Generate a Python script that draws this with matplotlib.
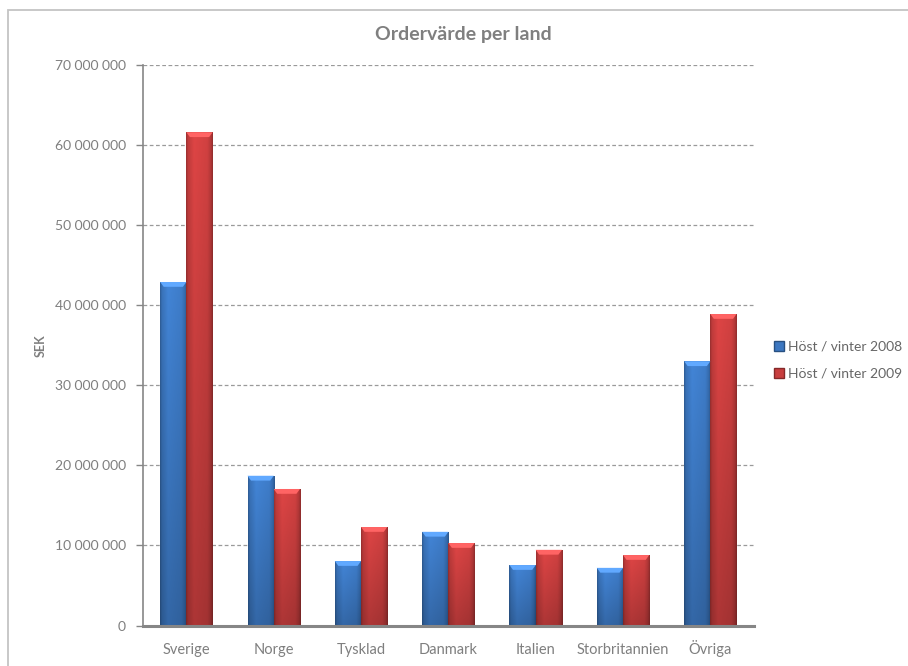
import matplotlib
matplotlib.use("Agg")
import matplotlib.pyplot as plt
import numpy as np
from matplotlib.patches import Patch, Polygon, Rectangle
from matplotlib.ticker import FuncFormatter, MultipleLocator

plt.rcParams["font.family"] = ["Lato", "DejaVu Sans"]

countries = ["Sverige", "Norge", "Tysklad", "Danmark", "Italien", "Storbritannien", "Övriga"]
series_labels = ["Höst / vinter 2008", "Höst / vinter 2009"]
sek_2008 = [42_900_000, 18_700_000, 8_050_000, 11_700_000, 7_550_000, 7_200_000, 33_000_000]
sek_2009 = [61_600_000, 17_050_000, 12_300_000, 10_300_000, 9_450_000, 8_800_000, 38_900_000]

BLUE = np.array([0.26, 0.52, 0.84])
RED = np.array([0.87, 0.27, 0.27])
GRAY = "#868686"
TEXT = "#7f7f7f"


def gradient_bar(ax, x0, width, height, base):
    # shaded column: darker at the edges and towards the bottom
    xs = np.linspace(0, 1, 48)
    ys = np.linspace(0, 1, 64)
    hprof = np.interp(xs, [0, 0.06, 0.3, 0.8, 0.94, 1], [0.70, 0.86, 1.0, 0.94, 0.80, 0.66])
    vprof = 0.78 + 0.22 * ys
    img = base[None, None, :] * hprof[None, :, None] * vprof[:, None, None]
    ax.imshow(np.clip(img, 0, 1), extent=[x0, x0 + width, 0, height], origin="lower",
              aspect="auto", interpolation="bilinear", zorder=3)
    # bevelled top edge
    d = 0.6e6
    inset = 0.04
    light = np.clip(base * 1.08 + 0.1, 0, 1)
    ax.add_patch(Polygon([(x0, height), (x0 + width, height),
                          (x0 + width - inset, height - d), (x0 + inset, height - d)],
                         closed=True, facecolor=light, edgecolor="none", zorder=4))


fig = plt.figure(figsize=(9.08, 6.66), dpi=100)
ax = fig.add_axes([0.1572, 0.0608, 0.6732, 0.8416])

w = 0.3
x = np.arange(len(countries))
for i in x:
    gradient_bar(ax, i - w, w, sek_2008[i], BLUE)
    gradient_bar(ax, i, w, sek_2009[i], RED)

ax.set_xlim(-0.5, len(countries) - 0.5)
ax.set_ylim(0, 70_000_000)
ax.yaxis.set_major_locator(MultipleLocator(10_000_000))
ax.yaxis.set_major_formatter(FuncFormatter(lambda v, _: f"{v:,.0f}".replace(",", " ")))
ax.set_xticks(x)
ax.set_xticklabels(countries)
for lbl in ax.get_xticklabels():
    lbl.set_verticalalignment("baseline")

ax.grid(axis="y", color="#9a9a9a", linestyle=(0, (3, 2)), linewidth=0.9, zorder=1)
ax.set_axisbelow(True)
for side in ("top", "right"):
    ax.spines[side].set_visible(False)
ax.spines["left"].set_color(GRAY)
ax.spines["left"].set_linewidth(1.2)
ax.spines["bottom"].set_color(GRAY)
ax.spines["bottom"].set_linewidth(2.2)
ax.spines["bottom"].set_zorder(5)

ax.tick_params(axis="y", direction="out", length=5, width=1, color=GRAY,
               labelsize=10, labelcolor=TEXT, pad=7)
ax.tick_params(axis="x", length=0, labelsize=10.5, labelcolor=TEXT, pad=20.5)

ax.set_ylabel("SEK", fontsize=9, fontweight="bold", color=TEXT, labelpad=6)
fig.text(0.51, 0.948, "Ordervärde per land", ha="center", va="center",
         fontsize=14, fontweight="bold", color=TEXT)

handles = [Patch(facecolor=BLUE * 0.9, edgecolor=BLUE * 0.6),
           Patch(facecolor=RED * 0.9, edgecolor=RED * 0.6)]
leg = fig.legend(handles, series_labels, loc="center left", bbox_to_anchor=(0.852, 0.459),
                 frameon=False, fontsize=10, handlelength=0.75, handleheight=0.75,
                 handletextpad=0.3, labelspacing=1.1, borderpad=0, borderaxespad=0)
for t in leg.get_texts():
    t.set_color("#666666")

# chart frame
fig.add_artist(Rectangle((8 / 908, -0.2), 1.2, 1.2 - 10 / 666, transform=fig.transFigure,
                         fill=False, edgecolor="#c4c4c4", linewidth=1.3))

fig.savefig("out.png", dpi=100)
